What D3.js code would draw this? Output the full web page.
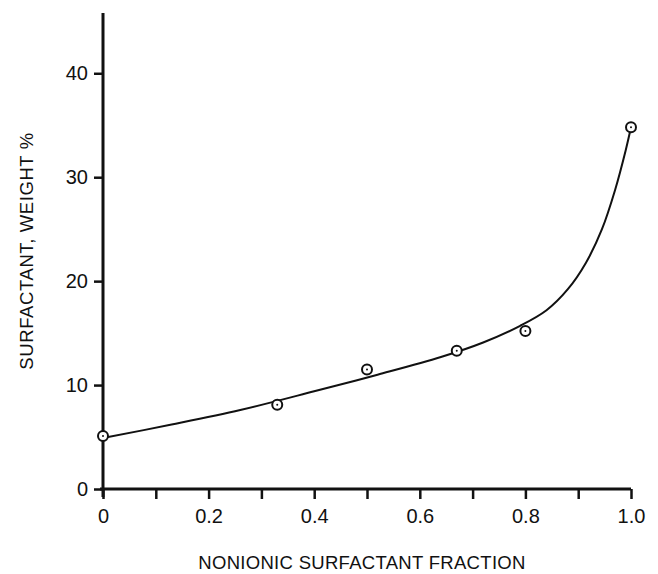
<!DOCTYPE html>
<html><head><meta charset="utf-8">
<script src="https://cdn.jsdelivr.net/npm/d3@7"></script>
<style>body{margin:0;background:#fff}svg{display:block}text{font-family:"Liberation Sans",Arial,sans-serif;fill:#111}</style>
</head><body><svg id="c" width="658" height="574"></svg>
<script>
const pointX = [0, 0.33, 0.5, 0.67, 0.8, 1.0];
const pointY = [5.1, 8.1, 11.5, 13.3, 15.2, 34.8];
const curveX = [0, 0.13, 0.26, 0.4, 0.52, 0.64, 0.72, 0.79, 0.84, 0.88, 0.915, 0.945, 0.97, 0.99, 1.0];
const curveY = [4.9, 6.2, 7.6, 9.4, 11.0, 12.7, 14.1, 15.7, 17.2, 19.2, 21.8, 25.0, 28.8, 32.6, 34.8];
const xTicks = [0, 0.1, 0.2, 0.3, 0.4, 0.5, 0.6, 0.7, 0.8, 0.9, 1.0];
const xTickLabels = ["0", "", "0.2", "", "0.4", "", "0.6", "", "0.8", "", "1.0"];
const yTicks = [0, 10, 20, 30, 40];
const yTickLabels = ["0", "10", "20", "30", "40"];
const xTitle = "NONIONIC SURFACTANT FRACTION";
const yTitle = "SURFACTANT, WEIGHT %";

const svg = d3.select("#c");
const x = d3.scaleLinear().domain([0, 1]).range([103, 631]);
const y = d3.scaleLinear().domain([0, 45.8]).range([489, 13]);

const xAxis = d3.axisBottom(x).tickValues(xTicks).tickSize(10).tickPadding(10)
  .tickFormat((d, i) => xTickLabels[i]);
const gx = svg.append("g").attr("transform", `translate(0,${y(0)})`).call(xAxis);
gx.select(".domain").attr("d", `M${x(0)-3},0H${x(1)}`).attr("stroke", "#111").attr("stroke-width", 3);
gx.selectAll(".tick line").attr("stroke", "#111").attr("stroke-width", 2.5);
gx.selectAll(".tick text").attr("font-size", 20).attr("fill", "#111").style("font-family", '"Liberation Sans",Arial,sans-serif');

const yAxis = d3.axisLeft(y).tickValues(yTicks).tickSize(9).tickPadding(6)
  .tickFormat((d, i) => yTickLabels[i]);
const gy = svg.append("g").attr("transform", `translate(${x(0)},0)`).call(yAxis);
gy.select(".domain").attr("d", `M0,${y(0)+8}V${y(45.8)}`).attr("stroke", "#111").attr("stroke-width", 3);
gy.selectAll(".tick line").attr("stroke", "#111").attr("stroke-width", 2.5);
gy.selectAll(".tick text").attr("font-size", 20).attr("fill", "#111").style("font-family", '"Liberation Sans",Arial,sans-serif');

const curveData = curveX.map((v, i) => [v, curveY[i]]);
svg.append("path").datum(curveData)
  .attr("fill", "none").attr("stroke", "#111").attr("stroke-width", 2)
  .attr("d", d3.line().x(d => x(d[0])).y(d => y(d[1])).curve(d3.curveCatmullRom.alpha(0.5)));

const pts = pointX.map((v, i) => [v, pointY[i]]);
const pg = svg.append("g");
pg.selectAll("circle.o").data(pts).join("circle").attr("class", "o")
  .attr("cx", d => x(d[0])).attr("cy", d => y(d[1])).attr("r", 5)
  .attr("fill", "#fff").attr("stroke", "#111").attr("stroke-width", 2);
pg.selectAll("circle.c").data(pts).join("circle").attr("class", "c")
  .attr("cx", d => x(d[0])).attr("cy", d => y(d[1])).attr("r", 1).attr("fill", "#111");

svg.append("text").attr("x", 362).attr("y", 569).attr("text-anchor", "middle")
  .attr("font-size", 18.5).attr("letter-spacing", 0.3).text(xTitle);
svg.append("text").attr("transform", "translate(33,251) rotate(-90)").attr("text-anchor", "middle")
  .attr("font-size", 18.5).attr("letter-spacing", 0.6).text(yTitle);
</script></body></html>
